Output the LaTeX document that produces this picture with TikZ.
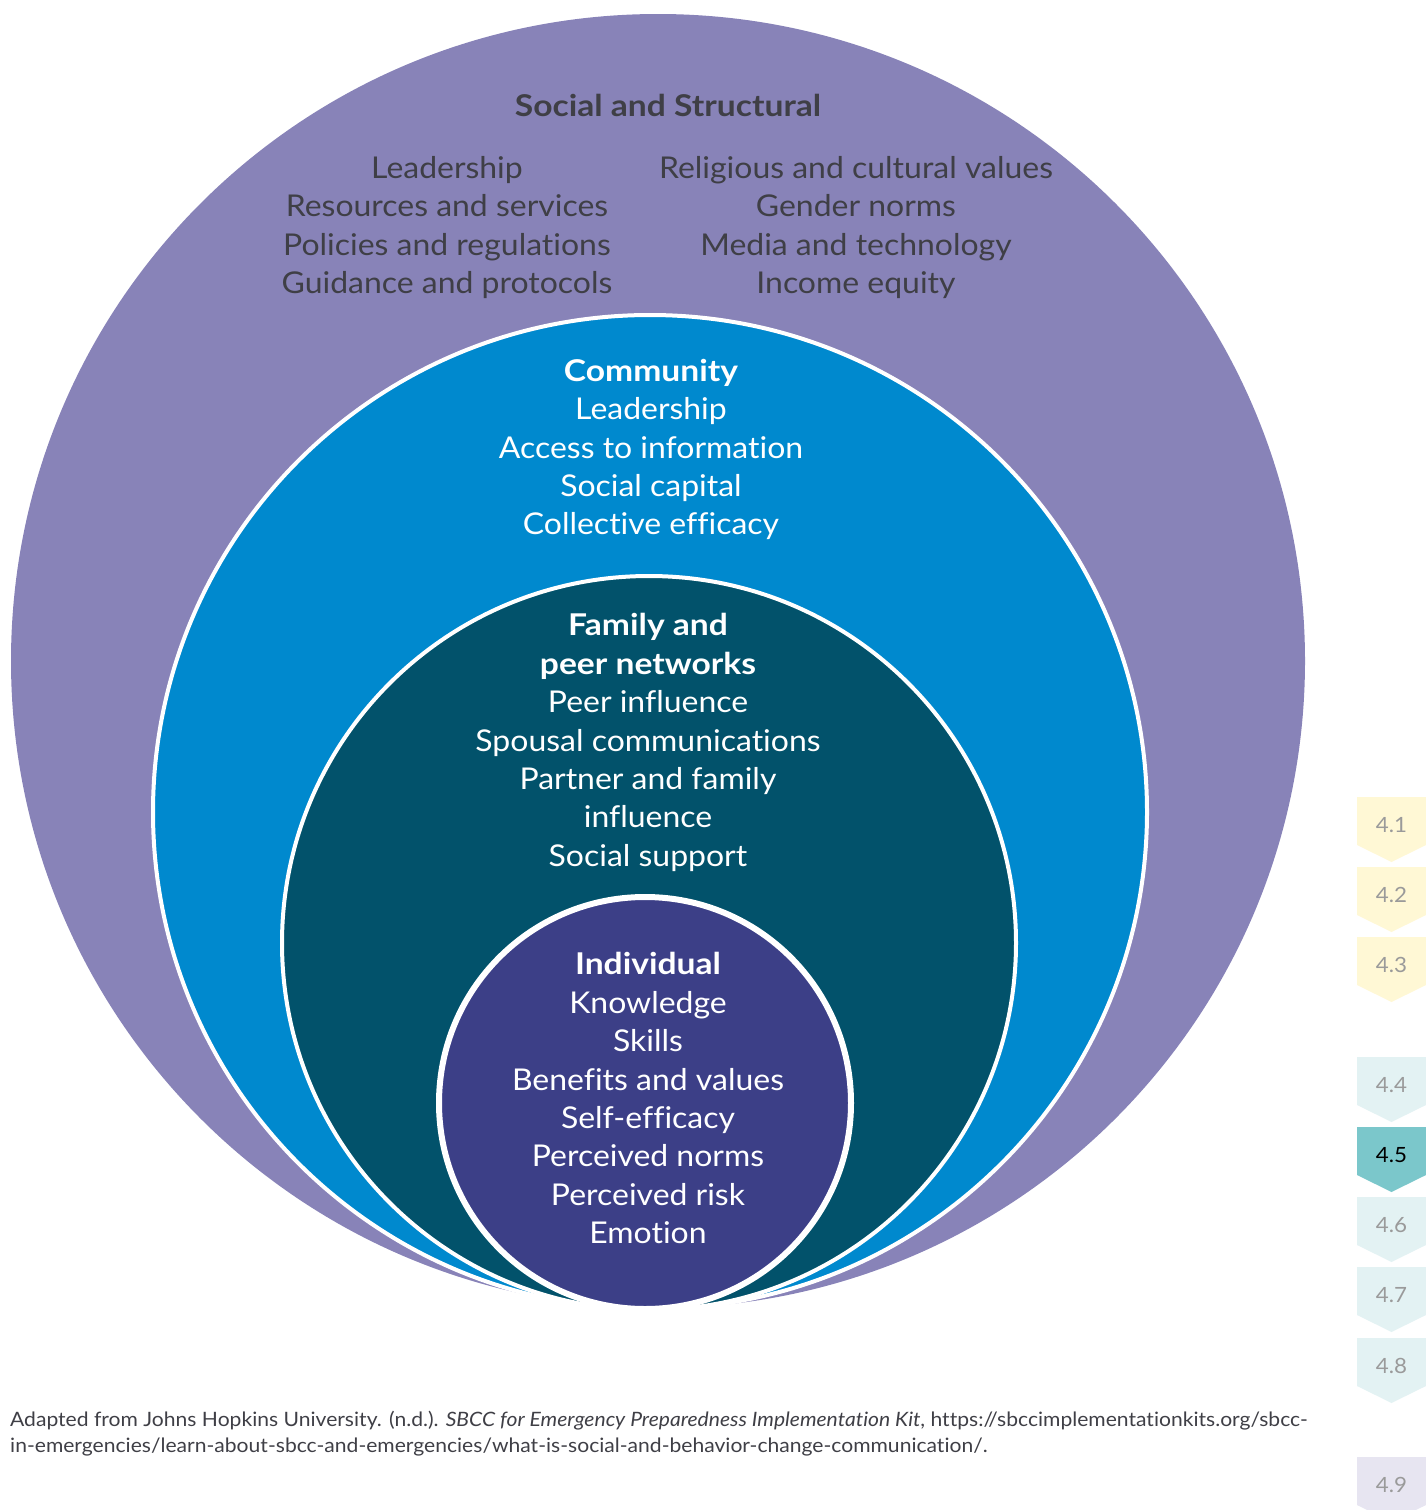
\documentclass[tikz,border=0pt]{standalone}
\usepackage{fontspec}
\setmainfont{Lato}[FakeStretch=1.065, BoldFeatures={FakeStretch=1.12}, Ligatures=NoCommon]
\definecolor{outerP}{HTML}{8883B8}
\definecolor{commB}{HTML}{0089CE}
\definecolor{famT}{HTML}{02526B}
\definecolor{indP}{HTML}{3C3F87}
\definecolor{txtD}{HTML}{3F3F46}
\definecolor{tabY}{HTML}{FFF8D5}
\definecolor{tabT}{HTML}{E3F2F3}
\definecolor{tabA}{HTML}{7BC7CB}
\definecolor{tabL}{HTML}{E7E5F1}
\definecolor{tabTxt}{HTML}{9A9A9A}
\tikzset{
  lbl/.style={anchor=base, inner sep=0pt, font=\fontsize{30}{35}\selectfont},
  dlbl/.style={lbl, text=txtD},
  wlbl/.style={lbl, text=white},
  ttl/.style={font=\fontsize{30}{35}\selectfont\bfseries},
  tabtxt/.style={anchor=center, inner sep=0pt, font=\fontsize{21}{24}\selectfont, text=tabTxt},
  captxt/.style={anchor=base west, inner sep=0pt, font=\fontsize{19.8}{24}\selectfont, text=txtD}
}
\newcommand{\tabshape}[3]{% top y, fill colour, name
  \fill[#2] (1357,#1) -- (1426,#1) -- (1426,#1+48) -- (1391.5,#1+65) -- (1357,#1+48) -- cycle;
  \coordinate (#3) at (1391.5,#1+28);
}
\begin{document}
\begin{tikzpicture}[x=1pt,y=-1pt]
\useasboundingbox (0,0) rectangle (1426,1510);
% circles
\fill[outerP] (658,661) circle[radius=647pt];
\fill[commB] (650,812) circle[radius=497pt];
\draw[white, line width=4pt] (650,812) circle[radius=497pt];
\fill[famT] (649,943) circle[radius=367pt];
\draw[white, line width=4pt] (649,943) circle[radius=367pt];
\fill[indP] (645,1103) circle[radius=206pt];
\draw[white, line width=6pt] (645,1103) circle[radius=206pt];
% outer ring text
\node[dlbl, ttl] (ss) at (668,116) {Social and Structural};
\node[dlbl] (l1) at (447,178) {Leadership};
\node[dlbl] (l2) at (447,216) {Resources and services};
\node[dlbl] (l3) at (447,255) {Policies and regulations};
\node[dlbl] (l4) at (447,293) {Guidance and protocols};
\node[dlbl] (r1) at (856,178) {Religious and cultural values};
\node[dlbl] (r2) at (856,216) {Gender norms};
\node[dlbl] (r3) at (856,255) {Media and technology};
\node[dlbl] (r4) at (856,293) {Income equity};
% community
\node[wlbl, ttl] (cm) at (651,381) {Community};
\node[wlbl] (c1) at (651,419) {Leadership};
\node[wlbl] (c2) at (651,458) {Access to information};
\node[wlbl] (c3) at (651,496) {Social capital};
\node[wlbl] (c4) at (651,534) {Collective efficacy};
% family
\node[wlbl, ttl] (fm1) at (648,635) {Family and};
\node[wlbl, ttl] (fm2) at (648,674) {peer networks};
\node[wlbl] (f1) at (648,712) {Peer influence};
\node[wlbl] (f2) at (648,751) {Spousal communications};
\node[wlbl] (f3) at (648,789) {Partner and family};
\node[wlbl] (f4) at (648,827) {influence};
\node[wlbl] (f5) at (648,866) {Social support};
% individual
\node[wlbl, ttl] (in) at (648,974) {Individual};
\node[wlbl] (i1) at (648,1013) {Knowledge};
\node[wlbl] (i2) at (648,1051) {Skills};
\node[wlbl] (i3) at (648,1090) {Benefits and values};
\node[wlbl] (i4) at (648,1128) {Self-efficacy};
\node[wlbl] (i5) at (648,1166) {Perceived norms};
\node[wlbl] (i6) at (648,1205) {Perceived risk};
\node[wlbl] (i7) at (648,1243) {Emotion};
% tabs
\tabshape{797}{tabY}{t1}
\tabshape{867}{tabY}{t2}
\tabshape{937}{tabY}{t3}
\tabshape{1057}{tabT}{t4}
\tabshape{1127}{tabA}{t5}
\tabshape{1197}{tabT}{t6}
\tabshape{1267}{tabT}{t7}
\tabshape{1338}{tabT}{t8}
\tabshape{1457}{tabL}{t9}
\node[tabtxt] (n1) at (t1) {4.1};
\node[tabtxt] (n2) at (t2) {4.2};
\node[tabtxt] (n3) at (t3) {4.3};
\node[tabtxt] (n4) at (t4) {4.4};
\node[tabtxt, text=black] (n5) at (t5) {4.5};
\node[tabtxt] (n6) at (t6) {4.6};
\node[tabtxt] (n7) at (t7) {4.7};
\node[tabtxt] (n8) at (t8) {4.8};
\node[tabtxt] (n9) at (t9) {4.9};
% caption
\node[captxt] (cap1) at (10,1426) {Adapted from Johns Hopkins University. (n.d.). \textit{SBCC for Emergency Preparedness Implementation Kit}, https://sbccimplementationkits.org/sbcc-};
\node[captxt] (cap2) at (10,1452) {in-emergencies/learn-about-sbcc-and-emergencies/what-is-social-and-behavior-change-communication/.};
\end{tikzpicture}
\end{document}
